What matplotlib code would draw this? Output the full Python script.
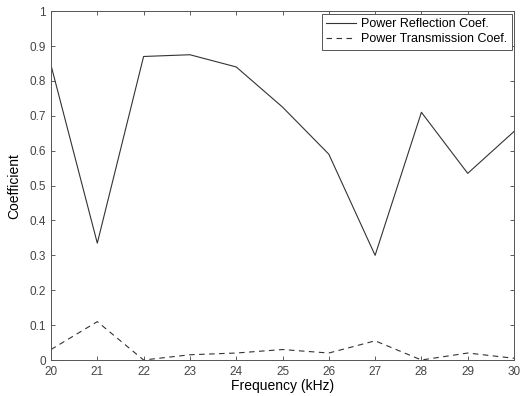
import numpy as np
import matplotlib.pyplot as plt

plt.rcParams['font.family'] = ['Liberation Sans', 'DejaVu Sans']

freq = [20, 21, 22, 23, 24, 25, 26, 27, 28, 29, 30]
reflection = [0.845, 0.335, 0.87, 0.875, 0.84, 0.725, 0.59, 0.30, 0.71, 0.535, 0.655]
transmission = [0.03, 0.11, 0.0, 0.015, 0.02, 0.03, 0.02, 0.055, 0.0, 0.02, 0.005]

fig = plt.figure(figsize=(5.22, 3.96), dpi=100)
ax = fig.add_axes([0.0977, 0.0909, 0.887, 0.881])

ax.plot(freq, reflection, '-', color='#333333', lw=0.8, label='Power Reflection Coef.')
ax.plot(freq, transmission, '--', color='#333333', lw=0.8, dashes=(5, 4),
        label='Power Transmission Coef.')

ax.set_xlim(20, 30)
ax.set_ylim(0, 1)
ax.set_xticks(np.arange(20, 31, 1))
ax.set_yticks(np.arange(0, 1.01, 0.1))
ax.set_yticklabels(['0', '0.1', '0.2', '0.3', '0.4', '0.5', '0.6', '0.7', '0.8', '0.9', '1'])
ax.tick_params(direction='in', length=3, width=0.6, labelsize=8.5, colors='#444444',
               top=True, right=True)
ax.tick_params(axis='x', pad=4)
for s in ax.spines.values():
    s.set_linewidth(0.7)
    s.set_color('#555555')

ax.set_xlabel('Frequency (kHz)', fontsize=10, labelpad=1)
ax.set_ylabel('Coefficient', fontsize=10, labelpad=6)

leg = ax.legend(loc='upper right', fontsize=9, handlelength=2.4, borderaxespad=0.2,
                fancybox=False, framealpha=1, borderpad=0.35, labelspacing=0.25,
                handletextpad=0.4)
leg.get_frame().set_edgecolor('#555555')
leg.get_frame().set_linewidth(0.7)

fig.savefig('out.png', dpi=100)
